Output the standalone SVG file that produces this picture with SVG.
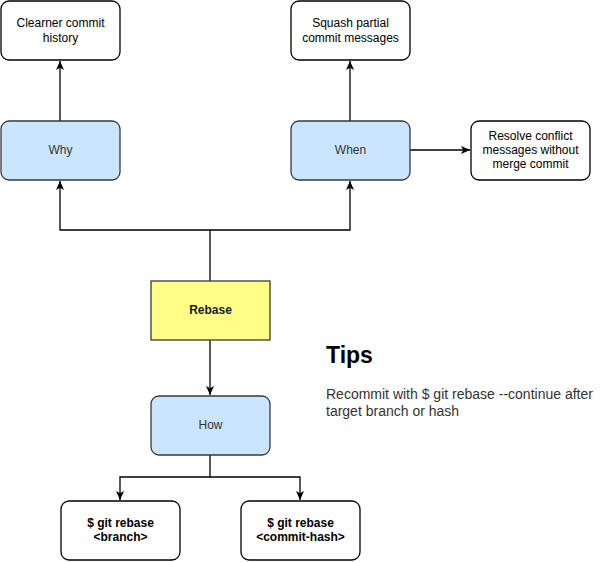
<svg xmlns="http://www.w3.org/2000/svg" width="602" height="562" viewBox="0 0 602 562">
<style>
.w{fill:#ffffff;stroke:#000000;stroke-width:1.3}
.b{fill:#cce5ff;stroke:#36393d;stroke-width:1.3}
.y{fill:#ffff88;stroke:#36393d;stroke-width:1.3}
text{font-family:"Liberation Sans",Arial,sans-serif;font-size:12px;text-anchor:middle;fill:#000}
.bl text{fill:#333}
.bd{font-weight:bold}
.c{fill:none;stroke:#000;stroke-width:1.3}
</style>
<defs>
<marker id="a" viewBox="0 0 10 10" refX="10" refY="5" markerWidth="9" markerHeight="9" orient="auto" markerUnits="userSpaceOnUse">
<path d="M0,0.5 L10,5 L0,9.5 L2.5,5 Z" fill="#000"/>
</marker>
</defs>
<rect width="602" height="562" fill="#fff"/>
<g id="connectors">
<path class="c" d="M60,121 V61" marker-end="url(#a)"/>
<path class="c" d="M350,121 V61" marker-end="url(#a)"/>
<path class="c" d="M410,150 H470" marker-end="url(#a)"/>
<path class="c" d="M210,281 V230 H60 V181" marker-end="url(#a)"/>
<path class="c" d="M210,230 H350 V181" marker-end="url(#a)"/>
<path class="c" d="M210,340 V395" marker-end="url(#a)"/>
<path class="c" d="M210,455 V477 H120 V500" marker-end="url(#a)"/>
<path class="c" d="M210,477 H300 V500" marker-end="url(#a)"/>
</g>
<g id="clearner"><rect class="w" x="1" y="1" width="119" height="59" rx="8"/><text x="60.5" y="27">Clearner commit</text><text x="60.5" y="42">history</text></g>
<g id="squash"><rect class="w" x="291" y="1" width="119" height="59" rx="8"/><text x="350.5" y="27">Squash partial</text><text x="350.5" y="42">commit messages</text></g>
<g id="why" class="bl"><rect class="b" x="1" y="121" width="119" height="59" rx="8"/><text x="60.5" y="154">Why</text></g>
<g id="when" class="bl"><rect class="b" x="291" y="121" width="119" height="59" rx="8"/><text x="350.5" y="154">When</text></g>
<g id="resolve"><rect class="w" x="471" y="121" width="119" height="59" rx="8"/><text x="530.5" y="140">Resolve conflict</text><text x="530.5" y="154">messages without</text><text x="530.5" y="168">merge commit</text></g>
<g id="rebase"><rect class="y" x="151" y="281" width="119" height="59"/><text class="bd" x="210.5" y="314" style="fill:#1a1a1a">Rebase</text></g>
<g id="how" class="bl"><rect class="b" x="151" y="396" width="119" height="59" rx="8"/><text x="210.5" y="429">How</text></g>
<g id="branch"><rect class="w" x="61" y="501" width="119" height="59" rx="8"/><text class="bd" x="120.5" y="527">$ git rebase</text><text class="bd" x="120.5" y="541">&lt;branch&gt;</text></g>
<g id="hash"><rect class="w" x="241" y="501" width="119" height="59" rx="8"/><text class="bd" x="300.5" y="527">$ git rebase</text><text class="bd" x="300.5" y="541">&lt;commit-hash&gt;</text></g>
<g id="tips">
<text x="326" y="363" style="text-anchor:start;font-size:23px;font-weight:bold">Tips</text>
<text x="326" y="399" style="text-anchor:start;font-size:14px;fill:#333">Recommit with $ git rebase --continue after</text>
<text x="326" y="416" style="text-anchor:start;font-size:14px;fill:#333">target branch or hash</text>
</g>
</svg>
